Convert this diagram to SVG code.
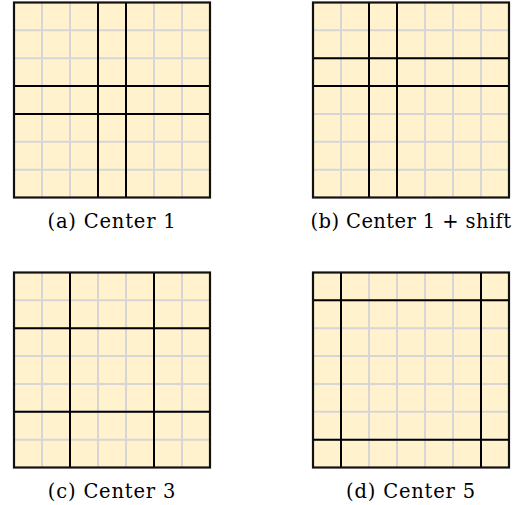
<svg xmlns="http://www.w3.org/2000/svg" width="515" height="505" viewBox="0 0 515 505">
<defs>
<style>
.bg{fill:#FFF2CC;stroke:none}
.fine{stroke:#D6D6D6;stroke-width:2;fill:none}
.thick{stroke:#000;stroke-width:2;fill:none}
.border{stroke:#111;stroke-width:2.2;fill:none}
.lbl{font-family:"DejaVu Serif","Liberation Serif",serif;font-size:19.5px;letter-spacing:0.8px;fill:#000;text-anchor:middle}
.tight{letter-spacing:0.4px}
</style>
<g id="cells">
<rect class="bg" x="0" y="0" width="196" height="195"/>
<path class="fine" d="M28,0V195M56,0V195M84,0V195M112,0V195M140,0V195M168,0V195M0,27.86H196M0,55.71H196M0,83.57H196M0,111.43H196M0,139.29H196M0,167.14H196"/>
</g>
</defs>
<rect width="515" height="505" fill="#fff"/>
<g id="grid-a" transform="translate(14,2.5)">
<use href="#cells"/>
<path class="thick" d="M84,0V195M112,0V195M0,83.57H196M0,111.43H196"/>
<rect class="border" x="0" y="0" width="196" height="195"/>
</g>
<g id="grid-b" transform="translate(313,2.5)">
<use href="#cells"/>
<path class="thick" d="M56,0V195M84,0V195M0,55.71H196M0,83.57H196"/>
<rect class="border" x="0" y="0" width="196" height="195"/>
</g>
<g id="grid-c" transform="translate(14,272.5)">
<use href="#cells"/>
<path class="thick" d="M56,0V195M140,0V195M0,55.71H196M0,139.29H196"/>
<rect class="border" x="0" y="0" width="196" height="195"/>
</g>
<g id="grid-d" transform="translate(313,272.5)">
<use href="#cells"/>
<path class="thick" d="M28,0V195M168,0V195M0,27.86H196M0,167.14H196"/>
<rect class="border" x="0" y="0" width="196" height="195"/>
</g>
<g id="labels">
<text class="lbl" x="112" y="227.5">(a) Center 1</text>
<text class="lbl tight" x="411" y="227.5">(b) Center 1 + shift</text>
<text class="lbl" x="112" y="498">(c) Center 3</text>
<text class="lbl" x="411" y="498">(d) Center 5</text>
</g>
</svg>
